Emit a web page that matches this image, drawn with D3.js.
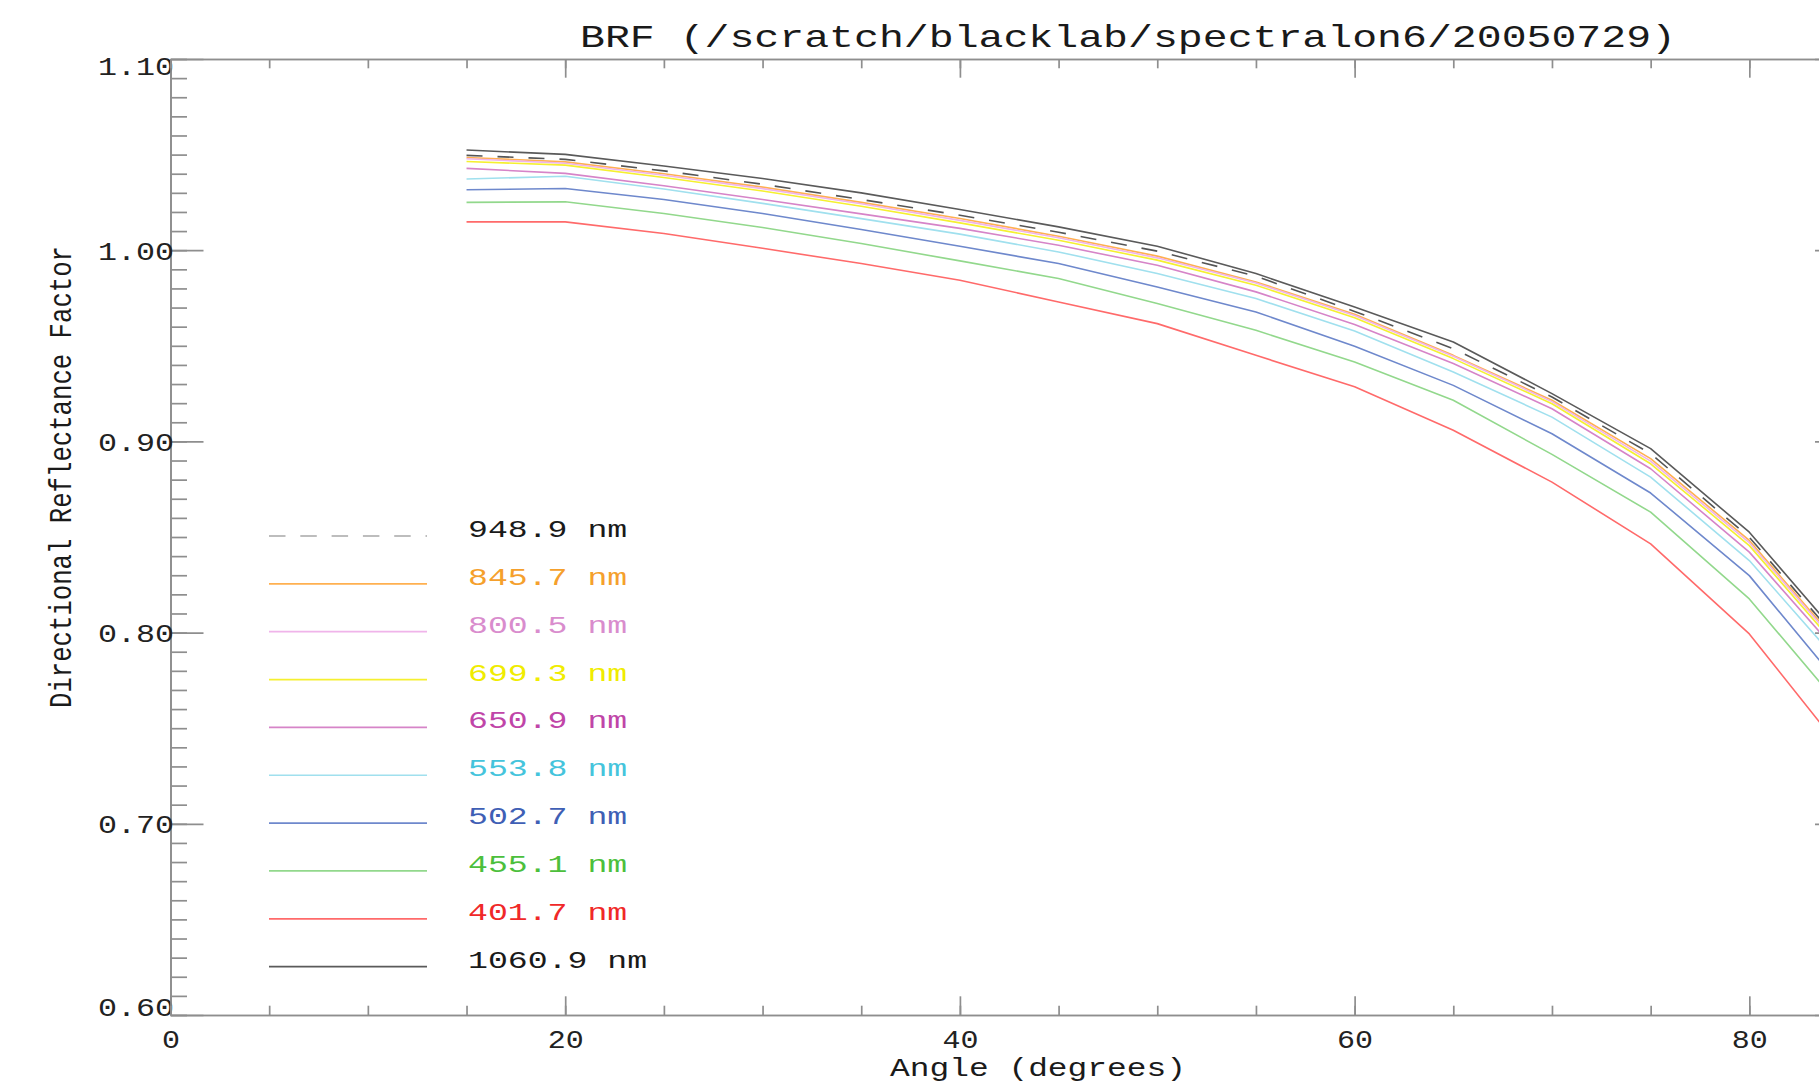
<!DOCTYPE html>
<html>
<head>
<meta charset="utf-8">
<title>BRF</title>
<script src="https://d3js.org/d3.v7.min.js"></script>
<style>
  body { margin: 0; background: #fff; }
  text { font-family: "Courier New", "Liberation Mono", monospace; }
</style>
</head>
<body>
<div id="chart"></div>
<script>
// viewing angles (degrees)
var angles = [15, 20, 25, 30, 35, 40, 45, 50, 55, 60, 65, 70, 75, 80, 85];

// legend order
var wavelengths = ["948.9 nm", "845.7 nm", "800.5 nm", "699.3 nm", "650.9 nm",
                   "553.8 nm", "502.7 nm", "455.1 nm", "401.7 nm", "1060.9 nm"];

var brf949  = [1.0496, 1.0475, 1.0415, 1.0345, 1.0265, 1.0183, 1.0094, 0.9995, 0.9864, 0.9680, 0.9485, 0.9232, 0.8936, 0.8499, 0.7900];
var brf846  = [1.0485, 1.0462, 1.0400, 1.0330, 1.0250, 1.0166, 1.0073, 0.9969, 0.9834, 0.9665, 0.9450, 0.9215, 0.8910, 0.8482, 0.7885];
var brf801  = [1.0478, 1.0455, 1.0392, 1.0322, 1.0243, 1.0156, 1.0065, 0.9960, 0.9828, 0.9658, 0.9445, 0.9208, 0.8897, 0.8470, 0.7875];
var brf699  = [1.0464, 1.0445, 1.0380, 1.0310, 1.0230, 1.0143, 1.0052, 0.9948, 0.9817, 0.9647, 0.9433, 0.9197, 0.8883, 0.8455, 0.7860];
var brf651  = [1.0428, 1.0402, 1.0337, 1.0265, 1.0190, 1.0114, 1.0026, 0.9921, 0.9782, 0.9612, 0.9407, 0.9171, 0.8857, 0.8421, 0.7835];
var brf554  = [1.0372, 1.0387, 1.0320, 1.0245, 1.0165, 1.0084, 0.9991, 0.9878, 0.9747, 0.9577, 0.9363, 0.9127, 0.8813, 0.8377, 0.7790];
var brf503  = [1.0316, 1.0323, 1.0265, 1.0192, 1.0108, 1.0021, 0.9930, 0.9808, 0.9677, 0.9498, 0.9293, 0.9040, 0.8730, 0.8298, 0.7675];
var brf455  = [1.0250, 1.0253, 1.0192, 1.0119, 1.0035, 0.9944, 0.9852, 0.9721, 0.9581, 0.9415, 0.9215, 0.8932, 0.8630, 0.8176, 0.7566];
var brf402  = [1.0148, 1.0148, 1.0087, 1.0010, 0.9930, 0.9843, 0.9729, 0.9616, 0.9450, 0.9286, 0.9058, 0.8787, 0.8464, 0.7993, 0.7345];
var brf1061 = [1.0524, 1.0501, 1.0440, 1.0375, 1.0300, 1.0213, 1.0122, 1.0021, 0.9878, 0.9703, 0.9520, 0.9250, 0.8962, 0.8525, 0.7927];

var yMajorTicks = [0.60, 0.70, 0.80, 0.90, 1.00, 1.10];
var xMajorTicks = [0, 20, 40, 60, 80];

var textColors = ["#1a1a1a", "#f5a02c", "#d98ccd", "#f0ec00", "#c045a8",
                  "#45c4dc", "#3f5fb5", "#4cbf3c", "#f02828", "#1a1a1a"];
var lineColors = ["#555555", "#ffb050", "#f0b4ea", "#f5f030", "#d684c8",
                  "#a0e0ee", "#6e88cc", "#92d88c", "#ff6a6a", "#5a5a5a"];

var series = [brf949, brf846, brf801, brf699, brf651, brf554, brf503, brf455, brf402, brf1061]
  .map(function (vals, i) {
    return { name: wavelengths[i], dashed: i === 0,
             points: vals.map(function (v, j) { return { a: angles[j], v: v }; }) };
  });

var W = 1819, H = 1085;
var plotL = 170.5, plotR = 1848, plotT = 59, plotB = 1015;

var svg = d3.select("#chart").append("svg")
  .attr("width", W).attr("height", H);

var x = d3.scaleLinear().domain([0, 85]).range([plotL, plotR]);
var y = d3.scaleLinear().domain([0.6, 1.1]).range([plotB, plotT]);

var axisColor = "#8e8e8e";
function styleAxis(g) {
  g.selectAll("path, line").attr("stroke", axisColor).attr("stroke-width", 1.7);
  g.select(".domain").attr("fill", "none");
  g.selectAll("text").attr("fill", "#222").attr("font-size", 26);
}

var yMinor = d3.range(60, 111).map(function (d) { return d / 100; });
var xMinor = d3.range(0, 86, 5);

// left axis
svg.append("g").attr("transform", "translate(" + plotL + ",0)")
  .call(d3.axisLeft(y).tickValues(yMinor).tickSizeInner(-16.5).tickSizeOuter(0).tickFormat(""))
  .call(styleAxis);
var yAx = svg.append("g").attr("transform", "translate(" + plotL + ",0)")
  .call(d3.axisLeft(y).tickValues(yMajorTicks).tickSizeInner(-33).tickSizeOuter(0)
        .tickPadding(-3.5).tickFormat(d3.format(".2f")))
  .call(styleAxis);
yAx.selectAll("text")
  .attr("textLength", 76).attr("lengthAdjust", "spacingAndGlyphs")
  .attr("dy", function (d) { return d > 1.05 ? "0.6em" : d < 0.65 ? "0em" : "0.35em"; });

// right axis
svg.append("g").attr("transform", "translate(" + plotR + ",0)")
  .call(d3.axisRight(y).tickValues(yMinor).tickSizeInner(-16.5).tickSizeOuter(0).tickFormat(""))
  .call(styleAxis);
svg.append("g").attr("transform", "translate(" + plotR + ",0)")
  .call(d3.axisRight(y).tickValues(yMajorTicks).tickSizeInner(-33).tickSizeOuter(0).tickFormat(""))
  .call(styleAxis);

// bottom axis
svg.append("g").attr("transform", "translate(0," + plotB + ")")
  .call(d3.axisBottom(x).tickValues(xMinor).tickSizeInner(-9.3).tickSizeOuter(0).tickFormat(""))
  .call(styleAxis);
var xAx = svg.append("g").attr("transform", "translate(0," + plotB + ")")
  .call(d3.axisBottom(x).tickValues(xMajorTicks).tickSizeInner(-18.7).tickSizeOuter(0)
        .tickPadding(33).tickFormat(d3.format("d")))
  .call(styleAxis);
xAx.selectAll("text")
  .attr("dy", "0em")
  .attr("textLength", function (d) { return String(d).length * 18; })
  .attr("lengthAdjust", "spacingAndGlyphs");

// top axis
svg.append("g").attr("transform", "translate(0," + plotT + ")")
  .call(d3.axisTop(x).tickValues(xMinor).tickSizeInner(-9.3).tickSizeOuter(0).tickFormat(""))
  .call(styleAxis);
svg.append("g").attr("transform", "translate(0," + plotT + ")")
  .call(d3.axisTop(x).tickValues(xMajorTicks).tickSizeInner(-18.7).tickSizeOuter(0).tickFormat(""))
  .call(styleAxis);

// curves
var line = d3.line()
  .x(function (d) { return x(d.a); })
  .y(function (d) { return y(d.v); });

svg.append("g").selectAll("path")
  .data(series)
  .enter()
  .append("path")
  .attr("d", function (d) { return line(d.points); })
  .attr("fill", "none")
  .attr("stroke", function (d, i) { return lineColors[i]; })
  .attr("stroke-width", 1.6)
  .attr("stroke-linejoin", "round")
  .attr("stroke-dasharray", function (d) { return d.dashed ? "16,15" : null; });

// legend
var legY = 536, legStep = 47.85;
var leg = svg.append("g");
leg.selectAll("line")
  .data(series)
  .enter()
  .append("line")
  .attr("x1", 269)
  .attr("x2", 427)
  .attr("y1", function (d, i) { return legY + i * legStep; })
  .attr("y2", function (d, i) { return legY + i * legStep; })
  .attr("stroke", function (d, i) { return d.dashed ? "#a8a8a8" : lineColors[i]; })
  .attr("stroke-width", 1.7)
  .attr("stroke-dasharray", function (d) { return d.dashed ? "16.5,14.8" : null; });

leg.selectAll("text")
  .data(series)
  .enter()
  .append("text")
  .attr("x", 468)
  .attr("y", function (d, i) { return legY + i * legStep + 1; })
  .attr("font-size", 24)
  .attr("fill", function (d, i) { return textColors[i]; })
  .attr("textLength", function (d) { return d.name.length * 19.9; })
  .attr("lengthAdjust", "spacingAndGlyphs")
  .text(function (d) { return d.name; });

// titles
svg.append("text")
  .attr("x", 580).attr("y", 46.5)
  .attr("font-size", 32).attr("fill", "#1a1a1a")
  .attr("textLength", 1096).attr("lengthAdjust", "spacingAndGlyphs")
  .text("BRF (/scratch/blacklab/spectralon6/20050729)");

svg.append("text")
  .attr("x", 890).attr("y", 1076)
  .attr("font-size", 26).attr("fill", "#1a1a1a")
  .attr("textLength", 296).attr("lengthAdjust", "spacingAndGlyphs")
  .text("Angle (degrees)");

svg.append("text")
  .attr("transform", "translate(71,708) scale(1.2,1) rotate(-90)")
  .attr("font-size", 26).attr("fill", "#1a1a1a")
  .attr("textLength", 462).attr("lengthAdjust", "spacingAndGlyphs")
  .text("Directional Reflectance Factor");
</script>
</body>
</html>
